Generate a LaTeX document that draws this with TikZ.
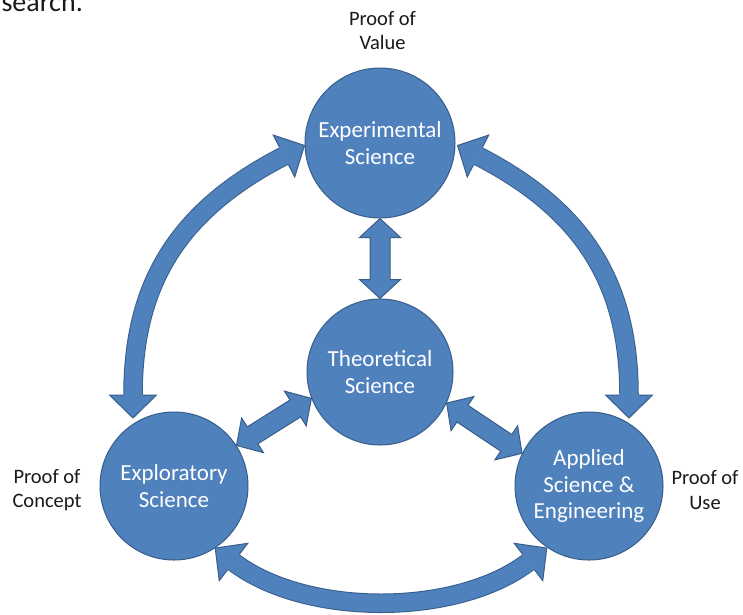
\documentclass[tikz,border=0pt]{standalone}
\usepackage{fontspec}
\setmainfont{Carlito}
\usetikzlibrary{calc}
\definecolor{bfill}{HTML}{4F81BD}
\definecolor{bline}{HTML}{385D8A}
\definecolor{labtext}{HTML}{1A1A1A}
\tikzset{
  bubble/.style={circle, fill=bfill, draw=bline, line width=1pt, text=white, align=center,
    inner sep=0pt, font=\fontsize{23}{26.5}\selectfont},
  lab/.style={text=labtext, align=center, inner sep=0pt, font=\fontsize{20.5}{24.5}\selectfont},
  arrowbody/.style={fill=bfill, draw=bline, line width=1pt, line join=miter},
}
% straight double block arrow between two tips
\newcommand\blockarrow[2]{%
  \coordinate (ba) at (#1); \coordinate (bb) at (#2);
  \coordinate (ha) at ($(ba)!19pt!(bb)$);
  \coordinate (hb) at ($(bb)!19pt!(ba)$);
  \filldraw[arrowbody] (ba) -- ($(ha)!20.5pt!90:(bb)$) -- ($(ha)!10pt!90:(bb)$)
    -- ($(hb)!10pt!-90:(ba)$) -- ($(hb)!20.5pt!-90:(ba)$) -- (bb)
    -- ($(hb)!20.5pt!90:(ba)$) -- ($(hb)!10pt!90:(ba)$)
    -- ($(ha)!10pt!-90:(bb)$) -- ($(ha)!20.5pt!-90:(bb)$) -- cycle;
}
% head of a curved arrow: #1 base middle, #2 neighbouring control point
\newcommand\curvehead[2]{%
  \fill[bfill] ($(#1)!23pt!180:(#2)$) -- ($(#1)!23.5pt!90:(#2)$) -- ($(#1)!23.5pt!-90:(#2)$) -- cycle;
  \draw[bline, line width=1pt, line join=miter] ($(#1)!9.75pt!90:(#2)$) -- ($(#1)!23.5pt!90:(#2)$)
    -- ($(#1)!23pt!180:(#2)$) -- ($(#1)!23.5pt!-90:(#2)$) -- ($(#1)!9.75pt!-90:(#2)$);
}
\newcommand\curvedarrow[4]{%
  \draw[line width=19.5pt, bline] (#1) .. controls (#2) and (#3) .. (#4);
  \draw[line width=17.5pt, bfill] (#1) .. controls (#2) and (#3) .. (#4);
  \curvehead{#1}{#2}
  \curvehead{#4}{#3}
}
\begin{document}
\begin{tikzpicture}[x=1pt,y=-1pt]
\useasboundingbox (0,0) rectangle (743,614);
\fill[white] (0,0) rectangle (743,614);
\begin{scope}
\clip (0,0) rectangle (743,614);
\node[anchor=base east, inner sep=0pt, text=labtext, font=\fontsize{28}{32}\selectfont] (srch) at (83,11) {search.};
\end{scope}

\node[bubble, minimum size=150pt] (exp) at (380,143) {Experimental\\Science};
\node[bubble, minimum size=146pt] (theo) at (380,372) {Theoretical\\Science};
\node[bubble, minimum size=148pt] (explo) at (174,486) {Exploratory\\Science};
\node[bubble, minimum size=148pt] (appl) at (589,486) {Applied\\Science \&\\Engineering};

\node[lab] (pv) at (382.5,30.7) {Proof of\\Value};
\node[lab] (pc) at (47,490) {Proof of\\Concept};
\node[lab] (pu) at (705,490) {Proof of\\Use};

\blockarrow{exp.south}{theo.north}
\blockarrow{explo.33}{theo.201}
\blockarrow{theo.335}{appl.154}

\coordinate (L1) at (133,395); \coordinate (L2) at (133,285);
\coordinate (L3) at (177,211); \coordinate (L4) at (284,156);
\curvedarrow{L1}{L2}{L3}{L4}
\coordinate (R1) at (629,395); \coordinate (R2) at (629,285);
\coordinate (R3) at (585,211); \coordinate (R4) at (478,156);
\curvedarrow{R1}{R2}{R3}{R4}
\coordinate (B1) at (233.5,562); \coordinate (B2) at (305.5,617);
\coordinate (B3) at (456.5,617); \coordinate (B4) at (528.5,562);
\curvedarrow{B1}{B2}{B3}{B4}
\end{tikzpicture}
\end{document}
